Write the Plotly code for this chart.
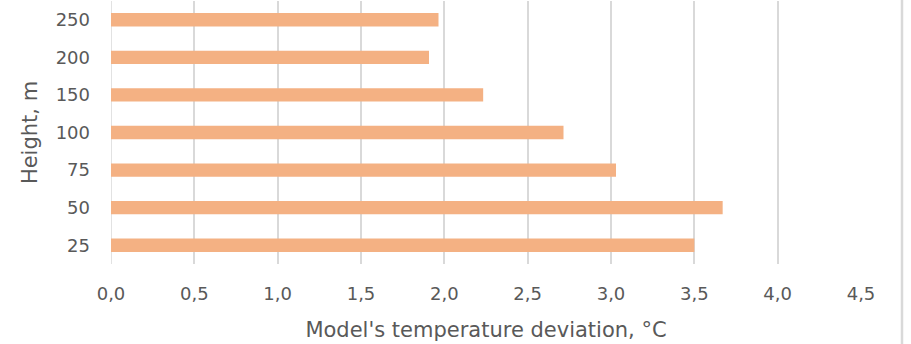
import plotly.graph_objects as go

heights = ["25", "50", "75", "100", "150", "200", "250"]
deviation = [3.50, 3.67, 3.03, 2.715, 2.233, 1.908, 1.965]
x_ticks = [0, 0.5, 1.0, 1.5, 2.0, 2.5, 3.0, 3.5, 4.0, 4.5]
x_tick_labels = ["0,0", "0,5", "1,0", "1,5", "2,0", "2,5", "3,0", "3,5", "4,0", "4,5"]

FONT = "DejaVu Sans"
GRAY = "#595959"
W, H = 911, 344
ML, MR, MT, MB = 111, 50, 1, 80

fig = go.Figure(
    go.Bar(
        x=deviation,
        y=heights,
        orientation="h",
        marker=dict(color="#F4B183", line=dict(width=0)),
    )
)

fig.update_layout(
    width=W,
    height=H,
    margin=dict(l=ML, r=MR, t=MT, b=MB, autoexpand=False),
    plot_bgcolor="white",
    paper_bgcolor="white",
    bargap=0.645,
    showlegend=False,
    font=dict(family=FONT, color=GRAY, size=18),
)

fig.update_xaxes(
    range=[0, 4.5],
    tickvals=x_ticks,
    ticktext=x_tick_labels,
    showgrid=True,
    gridcolor="#D9D9D9",
    gridwidth=1.5,
    zeroline=False,
    showline=False,
    ticks="",
    automargin=False,
    ticklabelstandoff=17,
    tickfont=dict(size=18, color=GRAY),
    title=dict(text="Model's temperature deviation, °C", font=dict(size=21, color=GRAY), standoff=19),
)

fig.update_yaxes(
    type="category",
    categoryorder="array",
    categoryarray=heights,
    showgrid=False,
    zeroline=False,
    showline=False,
    ticks="",
    automargin=False,
    ticklabelstandoff=20,
    tickfont=dict(size=18, color=GRAY),
    title=dict(text="Height, m", font=dict(size=21, color=GRAY), standoff=12),
)

# vertical line at x=0 (Excel-style axis gridline)
fig.add_shape(type="line", xref="x", yref="paper", x0=0, x1=0, y0=0, y1=1,
              line=dict(color="#D9D9D9", width=1.5), layer="below")

# chart-area border at right edge
pw = W - ML - MR
ph = H - MT - MB
bx = (902 - ML) / pw
fig.add_shape(type="line", xref="paper", yref="paper", x0=bx, x1=bx,
              y0=-MB / ph, y1=1 + MT / ph,
              line=dict(color="#D9D9D9", width=2.5))

fig.write_html("out.html", config={"displayModeBar": False},
               post_script="document.body.style.margin='0px';")
